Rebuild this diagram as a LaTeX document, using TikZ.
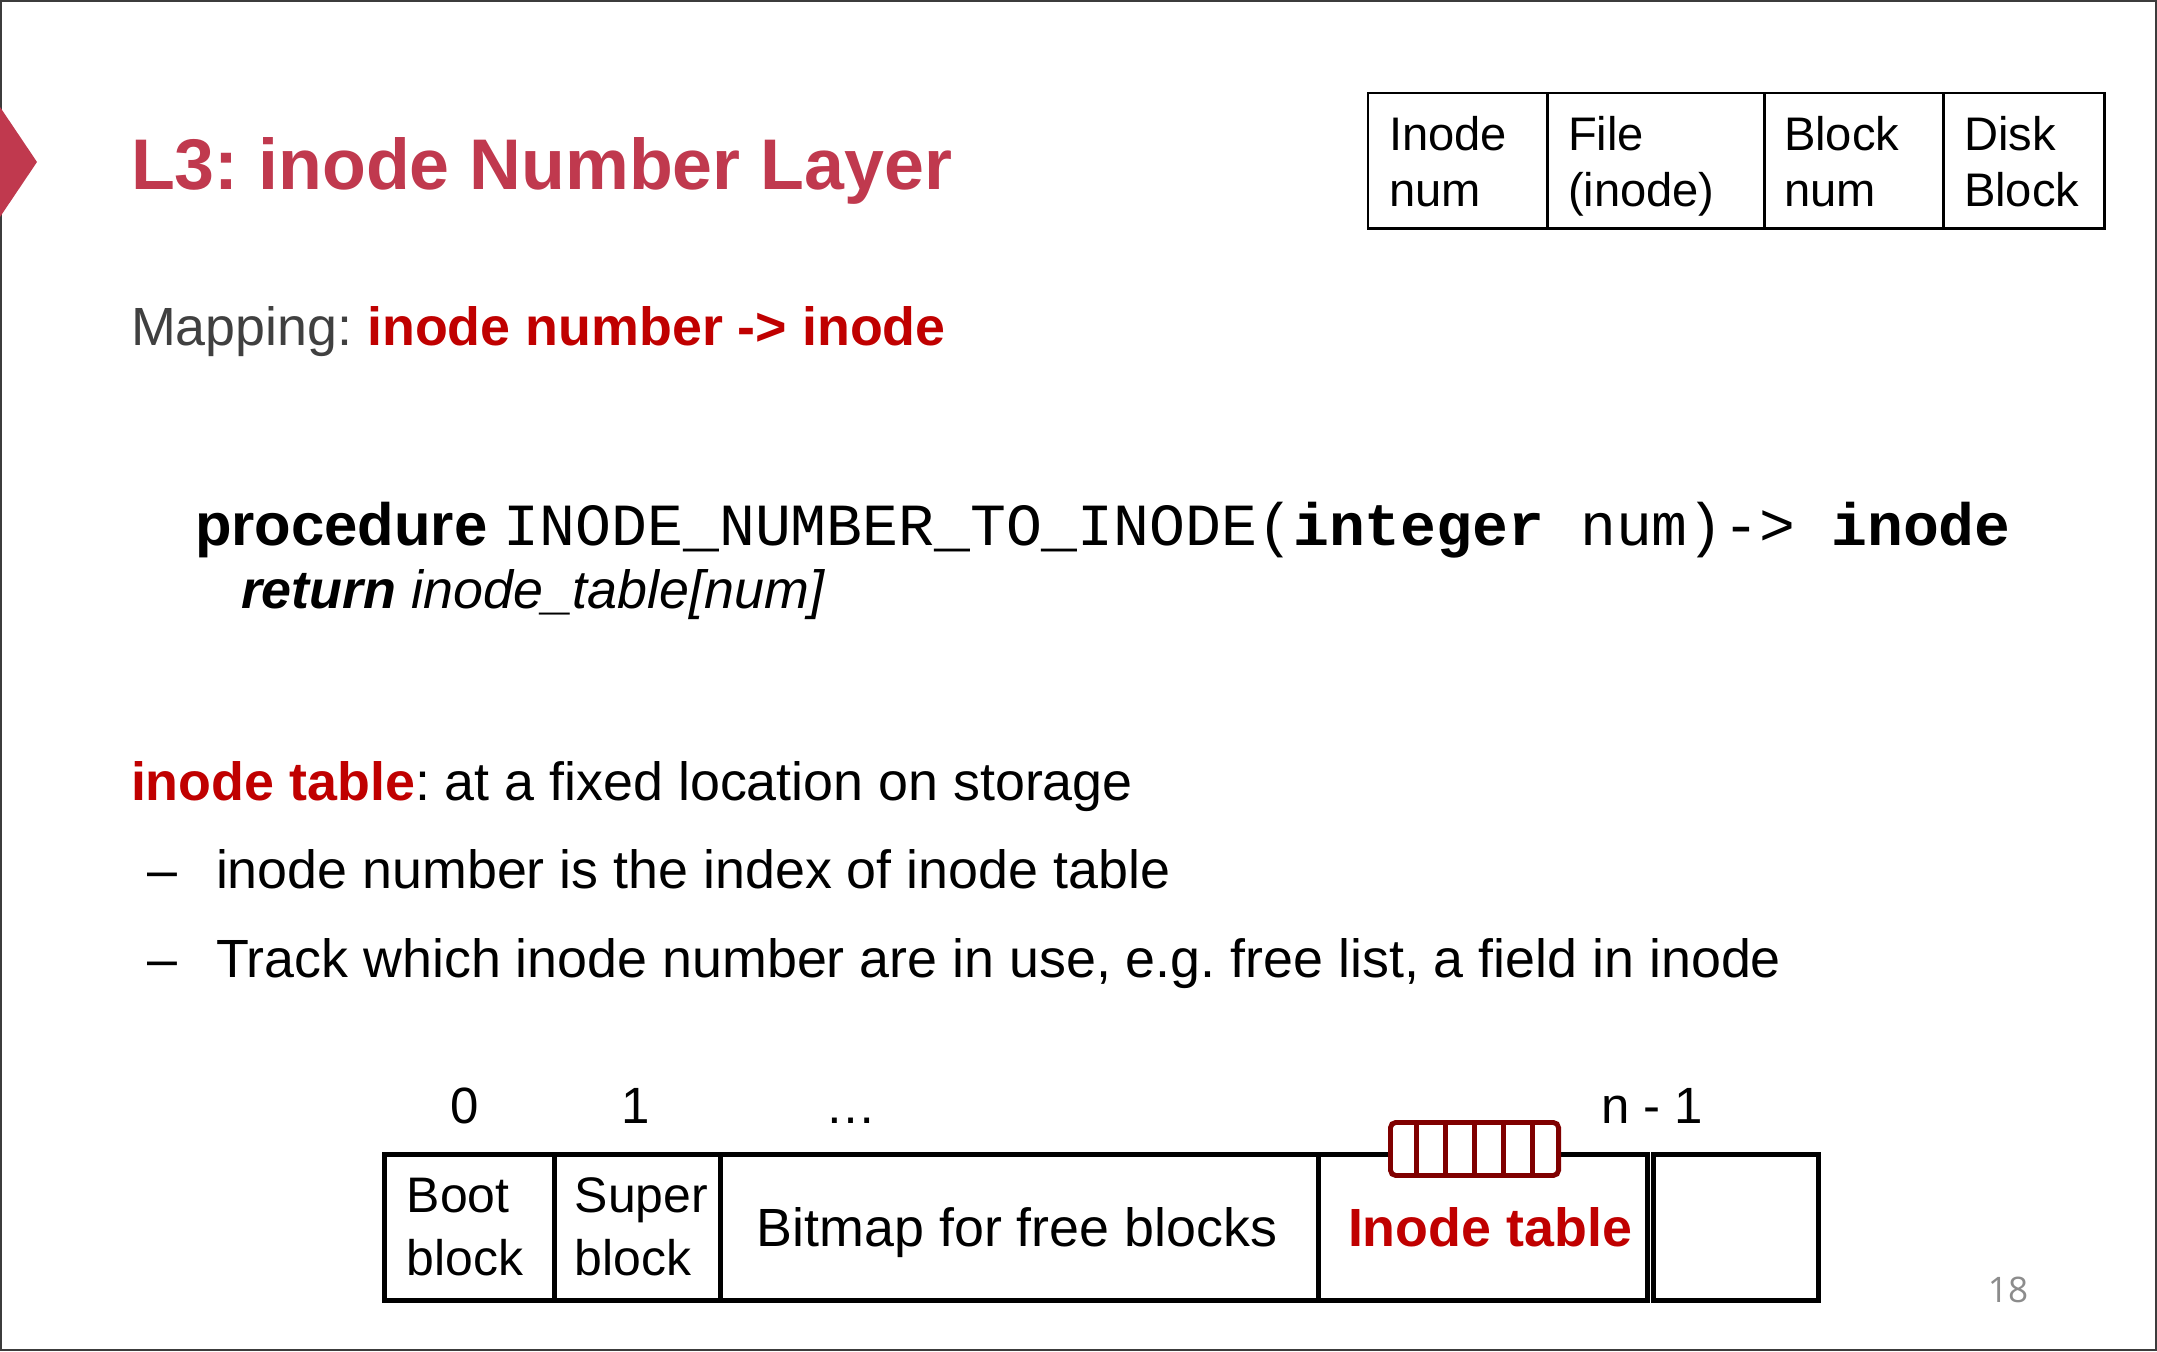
\documentclass[tikz,border=0pt]{standalone}
\usepackage{fontspec}
\setmainfont{Liberation Sans}
\setmonofont{Liberation Mono}
\newfontfamily\pagenumfont{Open Sans}
\usetikzlibrary{calc}
\frenchspacing

\definecolor{titlered}{RGB}{192,57,78}
\definecolor{hired}{RGB}{192,0,0}
\definecolor{darkred}{RGB}{128,0,0}
\definecolor{txtgray}{RGB}{64,64,64}
\definecolor{pagegray}{RGB}{140,140,140}
\definecolor{framegray}{RGB}{60,60,60}

\newcommand\fsz[2]{\fontsize{#1}{#2}\selectfont}

\begin{document}
\begin{tikzpicture}[x=0.01cm,y=-0.01cm,
  txt/.style={anchor=base west, inner sep=0pt, outer sep=0pt},
  body/.style={txt, font=\fsz{15.3pt}{18pt}},
  cell/.style={draw=black, line width=0.7pt, minimum height=1.35cm,
    anchor=north west, inner sep=0pt},
  celltext/.style={txt, align=left, font=\fsz{13.4pt}{16.2pt}},
  blk/.style={draw=black, line width=1.4pt, minimum height=1.46cm,
    anchor=north west, inner sep=0pt},
  blktext/.style={inner sep=0pt, align=left, font=\fsz{14.2pt}{17.9pt}},
  idx/.style={anchor=base, inner sep=0pt, font=\fsz{14.5pt}{17pt}},
]
% page and frame
\useasboundingbox (0,0) rectangle (2157,1352);
\fill[white] (0,0) rectangle (2157,1352);
\draw[framegray, line width=0.8pt] (1,1) rectangle (2156,1350);

% title marker and title
\fill[titlered] (0,107) -- (37,162) -- (0,217) -- cycle;
\node[txt, font=\fsz{20.4pt}{24pt}\bfseries, text=titlered] (title) at (131,190)
  {L3: inode Number Layer};

% layer legend (text nodes anchored on the baseline of their last line)
\node[cell, minimum width=1.79cm] (lnum)  at (1367,92) {};
\node[cell, minimum width=2.17cm] (lfile) at (1546,92) {};
\node[cell, minimum width=1.79cm] (lbnum) at (1763,92) {};
\node[cell, minimum width=1.61cm] (ldisk) at (1942,92) {};
\node[celltext] (tnum)  at (1389,207) {Inode\\num};
\node[celltext] (tfile) at (1568,207) {File\\(inode)};
\node[celltext] (tbnum) at (1784,207) {Block\\num};
\node[celltext] (tdisk) at (1964,207) {Disk\\Block};

% mapping
\node[body] (map) at (131,346)
  {\textcolor{txtgray}{Mapping:} \textcolor{hired}{\bfseries inode number -> inode}};

% procedure
\node[txt, font=\fsz{17pt}{20pt}] (proc) at (195,546)
  {\bfseries procedure \ttfamily\mdseries INODE\_NUMBER\_TO\_INODE(\textbf{integer} num)->\ \textbf{inode}};
\node[body] (ret) at (241,609)
  {\bfseries\itshape return \mdseries inode\_table[num]};

% inode table notes
\node[body] (note) at (131,800)
  {\textcolor{hired}{\bfseries inode table}: at a fixed location on storage};
\node[body] (d1) at (147,888) {–};
\node[body] (b1) at (216,888) {inode number is the index of inode table};
\node[body] (d2) at (147,977) {–};
\node[body] (b2) at (216,977) {Track which inode number are in use, e.g. free list, a field in inode};

% disk layout
\node[blk, minimum width=1.70cm] (boot)   at (382,1152)  {};
\node[blk, minimum width=1.66cm] (super)  at (552,1152)  {};
\node[blk, minimum width=5.98cm] (bitmap) at (718,1152)  {};
\node[blk, minimum width=3.29cm] (itable) at (1316,1152) {};
\node[blk, minimum width=1.65cm] (last)   at (1651,1152) {};

\node[blktext, anchor=base west] (tboot)  at (406,1275) {Boot\\block};
\node[blktext, anchor=base west] (tsuper) at (574,1275) {Super\\block};
\node[anchor=base, inner sep=0pt, font=\fsz{15.3pt}{18pt}] (tbitmap) at (1017,1246)
  {Bitmap for free blocks};
\node[anchor=base, inner sep=0pt, font=\fsz{15.3pt}{18pt}\bfseries, text=hired] (titable)
  at (1490,1246) {Inode table};

% block indices
\node[idx] (i0) at (465,1123) {0};
\node[idx] (i1) at (636,1123) {1};
\node[idx] (idots) at (851,1123) {…};
\node[idx] (in) at (1652,1123) {n - 1};

% inode table entries
\node[draw=darkred, line width=1.4pt, fill=white, rounded corners=1.5pt,
  minimum width=1.68cm, minimum height=0.53cm, anchor=north west, inner sep=0pt]
  (entries) at (1388,1120) {};
\foreach \k in {1,...,5}
  \draw[darkred, line width=1.4pt]
    ($(entries.north west)!\k/6!(entries.north east)$) --
    ($(entries.south west)!\k/6!(entries.south east)$);

% page number
\node[anchor=base, inner sep=0pt, font=\pagenumfont\fsz{10pt}{12pt}, text=pagegray]
  (pnum) at (2008,1302) {18};
\end{tikzpicture}
\end{document}
